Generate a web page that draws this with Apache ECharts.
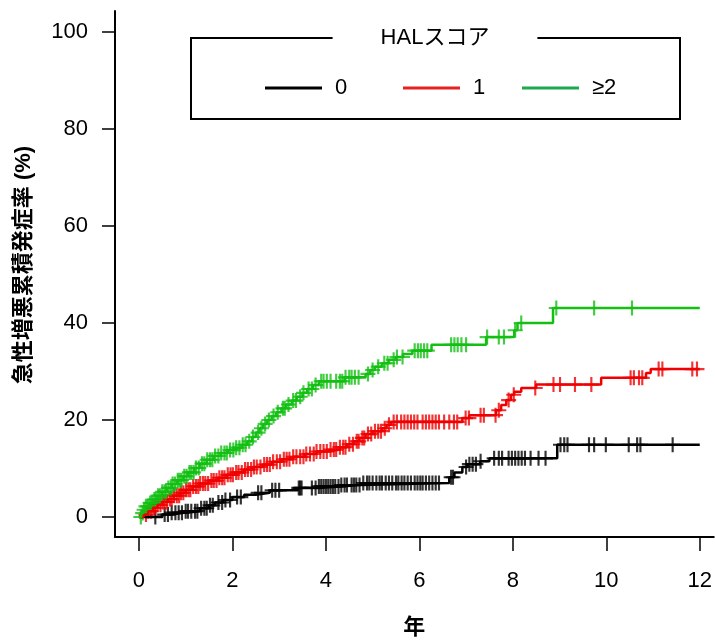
<!DOCTYPE html>
<html>
<head>
<meta charset="utf-8">
<script src="https://cdn.jsdelivr.net/npm/echarts@6/dist/echarts.min.js"></script>
<style>
  html, body { margin: 0; padding: 0; background: #fff; }
  #chart { width: 715px; height: 644px; }
</style>
</head>
<body>
<div id="chart"></div>
<script>
const FONT = '"Liberation Sans", Arial, "Noto Sans CJK JP", sans-serif'

const xTickValues = [0, 2, 4, 6, 8, 10, 12]
const yTickValues = [0, 20, 40, 60, 80, 100]

// HAL score 0 (black): step times (years) and cumulative incidence (%)
const hal0Time = [0, 0.2, 0.5, 0.7, 1.0, 1.3, 1.5, 1.62, 1.8, 2.0, 2.25, 2.5, 2.8, 3.4, 3.85, 4.3, 4.75, 6.64, 6.75, 6.92, 7.03, 7.3, 7.5, 8.95, 12.0]
const hal0Risk = [0, 0, 0.5, 0.9, 1.2, 1.8, 2.4, 3.0, 3.5, 4.1, 4.6, 5.0, 5.5, 6.0, 6.3, 6.6, 7.0, 8.2, 9.2, 10.3, 10.9, 11.5, 12.1, 14.9, 14.9]
const hal0Censor = [0.35, 0.55, 0.62, 0.7, 0.78, 0.85, 0.92, 1.0, 1.05, 1.12, 1.2, 1.25, 1.33, 1.4, 1.45, 1.52, 1.58, 1.7, 1.78, 1.85, 1.95, 2.1, 2.18, 2.55, 2.62, 2.85, 2.92, 3.0, 3.42, 3.45, 3.48, 3.7, 3.78, 3.85, 3.9, 3.95, 4.0, 4.05, 4.1, 4.15, 4.2, 4.27, 4.33, 4.4, 4.45, 4.55, 4.6, 4.65, 4.72, 4.8, 4.88, 4.93, 5.0, 5.08, 5.15, 5.2, 5.28, 5.35, 5.42, 5.5, 5.55, 5.62, 5.68, 5.75, 5.82, 5.9, 5.96, 6.02, 6.07, 6.14, 6.21, 6.28, 6.35, 6.42, 6.68, 6.72, 7.0, 7.07, 7.14, 7.21, 7.31, 7.6, 7.7, 7.77, 7.91, 7.98, 8.05, 8.12, 8.19, 8.26, 8.38, 8.55, 8.7, 9.02, 9.1, 9.17, 9.63, 9.74, 9.99, 10.48, 10.66, 10.73, 11.42]

// HAL score 1 (red)
const hal1Time = [0, 0.1, 0.2, 0.3, 0.4, 0.5, 0.62, 0.75, 0.88, 1.0, 1.15, 1.3, 1.5, 1.7, 1.88, 2.05, 2.25, 2.45, 2.65, 2.85, 3.05, 3.3, 3.55, 3.8, 4.05, 4.3, 4.45, 4.6, 4.72, 4.85, 5.0, 5.2, 5.3, 5.4, 6.92, 7.07, 7.64, 7.75, 7.86, 7.96, 8.03, 8.18, 8.5, 9.89, 10.85, 10.95, 12.0]
const hal1Risk = [0, 0.5, 1.2, 1.9, 2.5, 3.1, 3.7, 4.4, 5.0, 5.6, 6.3, 6.9, 7.5, 8.1, 8.7, 9.2, 9.8, 10.3, 10.8, 11.4, 11.9, 12.4, 13.0, 13.5, 13.9, 14.4, 15.0, 15.6, 16.3, 17.1, 17.7, 18.3, 19.0, 19.6, 20.4, 21.0, 22.0, 23.1, 24.1, 25.2, 25.8, 26.6, 27.3, 28.7, 29.7, 30.5, 30.5]
const hal1Censor = [0.15, 0.2, 0.26, 0.31, 0.35, 0.4, 0.46, 0.51, 0.55, 0.6, 0.66, 0.7, 0.75, 0.81, 0.86, 0.9, 0.95, 1.01, 1.06, 1.1, 1.16, 1.22, 1.27, 1.31, 1.37, 1.42, 1.48, 1.55, 1.6, 1.66, 1.72, 1.78, 1.83, 1.9, 1.96, 2.01, 2.08, 2.13, 2.2, 2.27, 2.33, 2.4, 2.46, 2.52, 2.6, 2.68, 2.74, 2.8, 2.87, 2.95, 3.02, 3.1, 3.16, 3.22, 3.3, 3.37, 3.45, 3.52, 3.58, 3.66, 3.74, 3.8, 3.88, 3.95, 4.02, 4.1, 4.17, 4.22, 4.3, 4.37, 4.42, 4.5, 4.58, 4.66, 4.7, 4.78, 4.82, 4.9, 4.97, 5.05, 5.12, 5.18, 5.26, 5.35, 5.45, 5.52, 5.61, 5.68, 5.75, 5.82, 5.89, 5.96, 6.07, 6.14, 6.21, 6.28, 6.35, 6.42, 6.53, 6.64, 6.74, 6.81, 6.99, 7.06, 7.31, 7.38, 7.63, 7.7, 7.91, 8.02, 8.48, 8.87, 9.01, 9.33, 9.68, 10.52, 10.59, 10.7, 10.77, 11.12, 11.2, 11.84, 11.94]

// HAL score >=2 (green)
const hal2Time = [0, 0.05, 0.1, 0.15, 0.22, 0.3, 0.4, 0.5, 0.6, 0.7, 0.82, 0.95, 1.05, 1.18, 1.3, 1.45, 1.6, 1.75, 1.9, 2.05, 2.2, 2.32, 2.42, 2.5, 2.58, 2.66, 2.74, 2.84, 2.94, 3.05, 3.15, 3.27, 3.38, 3.5, 3.6, 3.72, 3.85, 4.4, 4.85, 4.95, 5.05, 5.2, 5.35, 5.5, 5.65, 5.85, 6.26, 7.43, 8.03, 8.1, 8.86, 12.0]
const hal2Risk = [0, 0.8, 1.5, 2.2, 2.9, 3.6, 4.4, 5.2, 6.0, 6.8, 7.6, 8.4, 9.2, 10.1, 11.0, 11.8, 12.6, 13.2, 13.8, 14.3, 14.9, 15.6, 16.5, 17.4, 18.3, 19.2, 20.0, 20.8, 21.6, 22.4, 23.2, 24.0, 24.8, 25.6, 26.4, 27.2, 28.0, 28.8, 29.5, 30.3, 31.0, 31.7, 32.4, 33.0, 33.6, 34.3, 35.5, 37.1, 38.5, 40.0, 43.1, 43.1]
const hal2Censor = [0.04, 0.08, 0.11, 0.15, 0.19, 0.24, 0.28, 0.33, 0.36, 0.41, 0.45, 0.5, 0.55, 0.58, 0.63, 0.68, 0.72, 0.77, 0.83, 0.87, 0.91, 0.97, 1.02, 1.08, 1.12, 1.17, 1.22, 1.28, 1.35, 1.4, 1.46, 1.52, 1.57, 1.63, 1.7, 1.76, 1.83, 1.88, 1.95, 2.02, 2.08, 2.15, 2.22, 2.28, 2.36, 2.44, 2.55, 2.62, 2.7, 2.78, 2.88, 2.97, 3.08, 3.12, 3.2, 3.3, 3.36, 3.45, 3.52, 3.63, 3.7, 3.78, 3.9, 3.95, 4.02, 4.1, 4.22, 4.3, 4.35, 4.42, 4.5, 4.55, 4.62, 4.7, 4.9, 5.0, 5.12, 5.25, 5.32, 5.45, 5.52, 5.64, 5.9, 5.97, 6.03, 6.1, 6.17, 6.68, 6.75, 6.82, 6.9, 7.0, 7.45, 7.7, 7.81, 8.05, 8.18, 8.93, 9.74, 10.55]

const groups = [
  { name: '0', time: hal0Time, risk: hal0Risk, censor: hal0Censor, color: '#000000', legendColor: '#000000', left: 260 },
  { name: '1', time: hal1Time, risk: hal1Risk, censor: hal1Censor, color: '#f00000', legendColor: '#e52222', left: 398 },
  { name: '≥2', time: hal2Time, risk: hal2Risk, censor: hal2Censor, color: '#12bf12', legendColor: '#1fa84f', left: 517 },
]

// value of the step curve at time t
function valueAt(time, risk, t) {
  let v = 0
  for (let i = 0; i < time.length; i++) if (time[i] <= t) v = risk[i]
  return v
}

const PLUS = 'path://M6,0h2v6h6v2h-6v6h-2v-6h-6v-2h6z'

const series = []
groups.forEach((g) => {
  series.push({
    name: g.name,
    type: 'line',
    step: 'end',
    symbol: 'none',
    clip: false,
    color: g.color,
    lineStyle: { color: g.color, width: 2.5 },
    data: g.time.map((t, i) => [t, g.risk[i]]),
  })
  series.push({
    name: 'censor ' + g.name,
    type: 'scatter',
    symbol: PLUS,
    symbolSize: 15,
    clip: false,
    itemStyle: { color: g.color },
    data: g.censor.map((t) => [t, valueAt(g.time, g.risk, t)]),
  })
})

const chart = echarts.init(document.getElementById('chart'))
chart.setOption({
  animation: false,
  backgroundColor: '#fff',
  textStyle: { fontFamily: FONT },
  // axis frame runs 115..715 x 11..537; 0..12 years maps to 139..701, 0..100 % to 517..32
  grid: { left: 115, right: 0, top: 11, bottom: 107 },
  xAxis: {
    type: 'value', min: -0.5125, max: 12.299,
    axisLine: { show: true, onZero: false, lineStyle: { color: '#000', width: 2 } },
    axisTick: { show: true, length: 14, customValues: xTickValues, lineStyle: { color: '#000', width: 1.5 } },
    axisLabel: { color: '#000', fontSize: 22, margin: 33, fontFamily: FONT, customValues: xTickValues },
    splitLine: { show: false },
    name: '年', nameLocation: 'middle', nameGap: 80,
    nameTextStyle: { color: '#000', fontSize: 22, fontWeight: 'bold', fontFamily: FONT },
  },
  yAxis: {
    type: 'value', min: -4.124, max: 104.33,
    axisLine: { show: true, onZero: false, lineStyle: { color: '#000', width: 2 } },
    axisTick: { show: true, length: 13, customValues: yTickValues, lineStyle: { color: '#000', width: 1.5 } },
    axisLabel: { color: '#000', fontSize: 22, margin: 27, fontFamily: FONT, customValues: yTickValues },
    splitLine: { show: false },
    name: '急性増悪累積発症率 (%)', nameLocation: 'middle', nameGap: 80, nameRotate: 90,
    nameTextStyle: { color: '#000', fontSize: 22, fontWeight: 'bold', fontFamily: FONT, padding: [0, 0, 0, 18] },
  },
  legend: groups.map((g) => ({
    data: [{ name: g.name, itemStyle: { color: g.legendColor } }],
    left: g.left,
    top: 72,
    icon: 'rect',
    itemWidth: 57,
    itemHeight: 3,
    selectedMode: false,
    textStyle: { color: '#000', fontSize: 22, fontFamily: FONT, padding: [0, 0, 0, 8] },
  })),
  graphic: [
    {
      type: 'rect', z: 10,
      shape: { x: 191, y: 38, width: 489, height: 81 },
      style: { fill: null, stroke: '#000', lineWidth: 2 },
    },
    {
      type: 'text', z: 11, x: 435, y: 38,
      style: {
        text: 'HALスコア', font: '22px ' + FONT, fill: '#000',
        align: 'center', verticalAlign: 'middle',
        backgroundColor: '#fff', padding: [4, 48],
      },
    },
  ],
  series,
})
</script>
</body>
</html>
